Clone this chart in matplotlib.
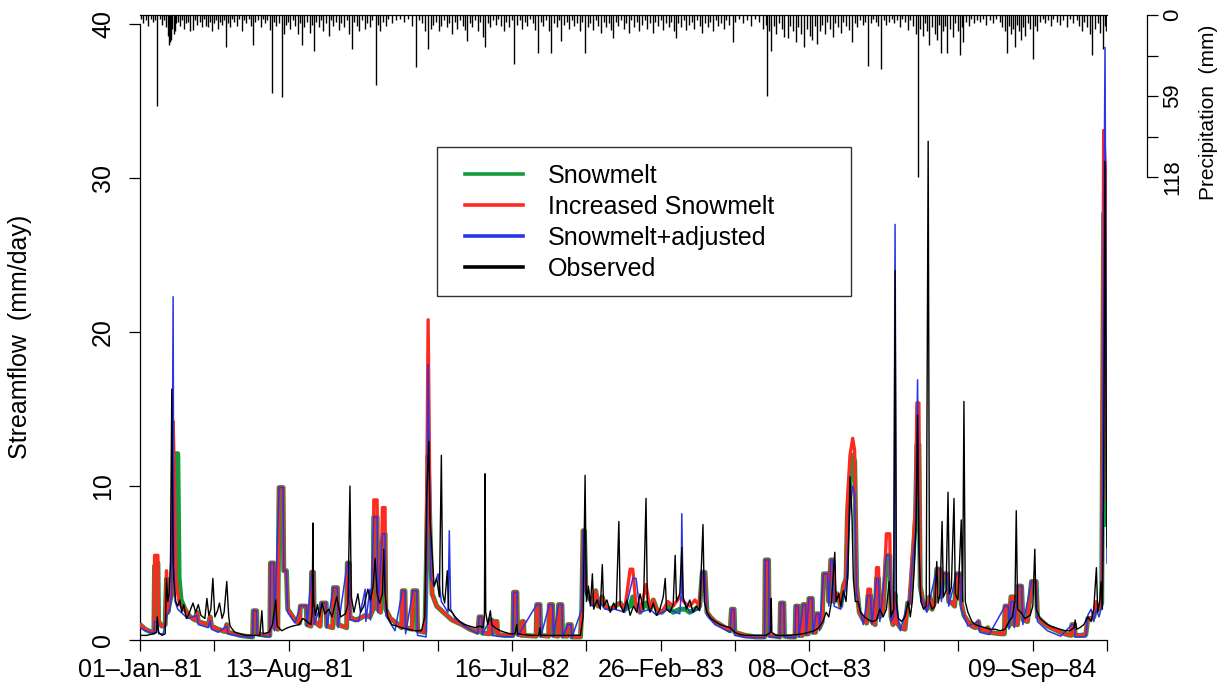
import numpy as np
import pandas as pd
import matplotlib
matplotlib.use("Agg")
import matplotlib.pyplot as plt
from matplotlib.lines import Line2D
from matplotlib.patches import Rectangle

plt.rcParams['font.family'] = ['Liberation Sans', 'DejaVu Sans']

start = pd.Timestamp('1981-01-01')
end = pd.Timestamp('1984-12-31')

# day offsets from 01-Jan-81 and streamflow (mm/day)
snow_day = [0, 8, 15, 21, 22, 27, 28, 33, 38, 40, 42, 45, 48, 50, 52, 54, 57, 59, 62, 68, 72, 76, 83, 86, 88, 95,
            103, 106, 108, 118, 128, 131, 133, 143, 151, 159, 170, 171, 176, 177, 189, 196, 197, 202, 203, 208,
            210, 216, 217, 221, 223, 234, 241, 242, 251, 252, 258, 259, 262, 263, 272, 274, 281, 282, 291, 292,
            298, 299, 312, 313, 316, 317, 325, 332, 340, 347, 352, 353, 358, 359, 363, 366, 370, 371, 378, 390,
            395, 396, 400, 401, 411, 412, 418, 419, 430, 432, 435, 438, 441, 448, 458, 471, 486, 498, 510, 512,
            516, 517, 527, 528, 531, 532, 536, 539, 540, 551, 563, 564, 569, 570, 576, 577, 579, 580, 598, 599,
            604, 605, 617, 618, 623, 624, 631, 632, 637, 638, 645, 646, 651, 652, 665, 667, 669, 671, 673, 677,
            683, 688, 692, 698, 702, 710, 717, 725, 732, 740, 744, 749, 755, 764, 770, 775, 780, 788, 797, 805,
            815, 823, 830, 838, 845, 849, 853, 856, 861, 868, 876, 883, 891, 893, 897, 898, 906, 914, 921, 929,
            936, 943, 944, 949, 950, 959, 966, 967, 972, 973, 981, 989, 990, 994, 995, 1000, 1001, 1005, 1006,
            1009, 1010, 1015, 1016, 1020, 1021, 1025, 1026, 1030, 1032, 1038, 1040, 1043, 1046, 1048, 1053, 1058,
            1062, 1066, 1068, 1072, 1076, 1079, 1082, 1086, 1092, 1097, 1099, 1103, 1105, 1110, 1112, 1115, 1117,
            1122, 1127, 1132, 1134, 1137, 1140, 1142, 1148, 1155, 1159, 1162, 1164, 1168, 1171, 1173, 1176, 1178,
            1182, 1188, 1192, 1196, 1200, 1203, 1208, 1210, 1213, 1219, 1221, 1226, 1230, 1233, 1238, 1240, 1244,
            1250, 1256, 1261, 1266, 1268, 1276, 1280, 1282, 1291, 1299, 1305, 1306, 1311, 1312, 1315, 1319, 1320,
            1325, 1326, 1331, 1333, 1340, 1346, 1353, 1355, 1362, 1370, 1380, 1390, 1400, 1406, 1407, 1411, 1412,
            1420, 1428, 1431, 1436, 1440, 1444, 1448, 1452, 1455, 1458, 1460]
snow_q = [1.0, 0.7, 0.55, 0.5, 4.8, 5.0, 1.2, 0.9, 1.0, 4.0, 1.8, 2.5, 3.0, 7.5, 4.5, 12.1, 12.1, 4.0, 2.6, 2.0, 1.7,
          1.5, 1.3, 1.8, 1.2, 1.1, 1.0, 1.5, 0.9, 0.7, 0.55, 1.0, 0.5, 0.4, 0.3, 0.25, 0.2, 1.9, 1.9, 0.4, 0.3, 0.3,
          5.0, 5.0, 0.8, 0.7, 9.9, 9.9, 4.5, 4.5, 2.0, 1.3, 1.1, 2.2, 2.2, 1.0, 0.9, 4.4, 4.4, 1.2, 0.9, 2.4, 2.4,
          0.9, 0.8, 3.4, 3.4, 1.0, 0.8, 5.0, 5.0, 1.5, 1.3, 1.4, 1.6, 1.5, 2.0, 8.0, 8.0, 2.0, 1.8, 6.5, 6.9, 2.0,
          1.4, 1.0, 0.8, 3.2, 3.2, 0.8, 0.7, 3.2, 3.2, 0.6, 0.5, 4.0, 12.0, 6.9, 3.0, 2.2, 1.8, 1.3, 1.0, 0.7, 0.5,
          1.5, 1.5, 0.45, 0.4, 1.3, 1.3, 0.4, 1.2, 1.2, 0.35, 0.3, 0.3, 3.1, 3.1, 0.4, 0.3, 1.2, 1.2, 0.3, 0.25,
          2.3, 2.3, 0.3, 0.25, 2.3, 2.3, 0.3, 0.25, 2.3, 2.3, 0.25, 0.25, 1.0, 1.0, 0.2, 0.2, 2.0, 7.1, 7.1, 3.5,
          2.8, 2.4, 3.2, 2.2, 2.8, 2.2, 2.0, 2.2, 2.4, 2.0, 2.2, 2.8, 2.2, 1.8, 2.4, 2.0, 2.6, 2.0, 1.8, 2.2, 1.8,
          2.0, 2.0, 1.8, 2.0, 2.2, 4.4, 4.4, 1.8, 1.5, 1.2, 1.0, 0.8, 0.6, 2.0, 2.0, 0.5, 0.4, 0.3, 0.25, 0.2,
          0.2, 0.2, 5.2, 5.2, 0.3, 0.25, 0.2, 2.4, 2.4, 0.25, 0.2, 0.2, 2.2, 2.2, 0.3, 0.3, 2.3, 2.3, 0.4, 0.4,
          2.7, 2.7, 0.5, 0.5, 1.7, 1.7, 0.8, 1.2, 4.3, 4.3, 2.5, 5.2, 5.2, 2.5, 3.0, 2.2, 3.5, 4.0, 8.0, 10.5,
          12.0, 11.6, 3.5, 1.8, 1.3, 1.1, 2.9, 2.9, 1.2, 1.0, 4.0, 4.0, 1.5, 2.0, 5.5, 5.5, 1.5, 1.0, 3.0, 1.2,
          0.8, 0.7, 2.4, 2.4, 3.5, 6.0, 8.0, 12.7, 12.7, 3.5, 2.5, 2.0, 2.8, 2.0, 2.5, 4.6, 4.6, 2.8, 4.3, 4.3,
          2.5, 2.4, 2.2, 4.3, 4.3, 2.4, 1.6, 1.2, 0.9, 0.8, 1.2, 0.7, 0.6, 0.8, 0.5, 0.45, 0.4, 0.4, 2.2, 2.2,
          0.9, 2.8, 2.8, 1.0, 1.0, 3.5, 3.5, 1.3, 1.2, 3.8, 3.8, 1.5, 1.2, 0.9, 0.7, 0.5, 0.35, 0.3, 1.0, 1.0,
          0.3, 0.3, 0.35, 1.4, 1.4, 1.5, 2.2, 2.0, 2.4, 27.7, 27.7, 7.5]

incr_day = snow_day
incr_q = [1.0, 0.7, 0.55, 0.5, 5.5, 5.5, 1.2, 0.9, 1.0, 4.5, 1.8, 2.5, 3.0, 14.2, 10.5, 4.0, 3.0, 2.5, 2.2, 2.0, 1.7,
          1.5, 1.3, 1.8, 1.2, 1.1, 1.0, 1.5, 0.9, 0.7, 0.55, 1.0, 0.5, 0.4, 0.3, 0.25, 0.2, 1.9, 1.9, 0.4, 0.3, 0.3,
          5.0, 5.0, 0.8, 0.7, 9.9, 9.9, 4.5, 4.5, 2.0, 1.3, 1.1, 2.2, 2.2, 1.0, 0.9, 4.4, 4.4, 1.2, 0.9, 2.4, 2.4,
          0.9, 0.8, 3.4, 3.4, 1.0, 0.8, 5.0, 5.0, 1.5, 1.3, 1.4, 1.6, 1.5, 2.0, 9.1, 9.1, 2.0, 1.8, 8.6, 8.6, 2.0,
          1.4, 1.0, 0.8, 3.2, 3.2, 0.8, 0.7, 3.2, 3.2, 0.6, 0.5, 4.0, 20.8, 7.5, 3.0, 2.2, 1.8, 1.3, 1.0, 0.7, 0.5,
          1.5, 1.5, 0.45, 0.4, 1.3, 1.3, 0.4, 1.2, 1.2, 0.35, 0.3, 0.3, 3.1, 3.1, 0.4, 0.3, 1.2, 1.2, 0.3, 0.25,
          2.3, 2.3, 0.3, 0.25, 2.3, 2.3, 0.3, 0.25, 2.3, 2.3, 0.25, 0.25, 1.0, 1.0, 0.2, 0.2, 2.0, 7.1, 7.1, 3.5,
          2.8, 2.4, 3.2, 2.2, 2.8, 2.2, 2.0, 2.2, 2.4, 2.0, 4.6, 4.6, 2.2, 1.8, 3.6, 2.0, 2.6, 2.0, 1.8, 2.5, 2.2,
          2.8, 2.4, 2.2, 2.6, 2.2, 4.4, 4.4, 1.8, 1.5, 1.2, 1.0, 0.8, 0.6, 2.0, 2.0, 0.5, 0.4, 0.3, 0.25, 0.2,
          0.2, 0.2, 5.2, 5.2, 0.3, 0.25, 0.2, 2.4, 2.4, 0.25, 0.2, 0.2, 2.2, 2.2, 0.3, 0.3, 2.3, 2.3, 0.4, 0.4,
          2.7, 2.7, 0.5, 0.5, 1.7, 1.7, 0.8, 1.2, 4.3, 4.3, 2.5, 5.2, 5.2, 2.5, 3.0, 2.2, 3.5, 4.0, 9.0, 12.0,
          13.1, 12.3, 3.5, 1.8, 1.3, 1.1, 3.3, 3.3, 1.2, 1.0, 4.7, 4.7, 1.5, 2.0, 6.9, 6.9, 1.5, 1.0, 3.0, 1.2,
          0.8, 0.7, 2.4, 2.4, 4.0, 6.5, 9.0, 15.4, 15.4, 3.5, 2.5, 2.0, 2.8, 2.0, 2.5, 4.6, 4.6, 2.8, 4.3, 4.3,
          2.5, 2.4, 2.2, 4.3, 4.3, 2.4, 1.6, 1.2, 0.9, 0.8, 1.2, 0.7, 0.6, 0.8, 0.5, 0.45, 0.4, 0.4, 2.2, 2.2,
          0.9, 2.8, 2.8, 1.0, 1.0, 3.5, 3.5, 1.3, 1.2, 3.8, 3.8, 1.5, 1.2, 0.9, 0.7, 0.5, 0.35, 0.3, 1.0, 1.0,
          0.3, 0.3, 0.35, 1.4, 1.4, 1.5, 2.5, 2.0, 2.6, 33.1, 30.0, 9.1]

adj_day = [0, 8, 15, 21, 22, 27, 28, 35, 40, 45, 48, 50, 51, 53, 57, 62, 72, 86, 88, 103, 106, 108, 118, 131, 133,
           150, 170, 171, 176, 177, 196, 197, 202, 203, 210, 216, 217, 221, 223, 234, 242, 251, 252, 259, 262, 263,
           274, 281, 282, 292, 298, 299, 313, 316, 317, 330, 340, 341, 347, 348, 353, 358, 359, 366, 370, 371,
           385, 396, 400, 401, 412, 418, 419, 432, 435, 437, 439, 444, 450, 455, 465, 467, 469, 476, 490, 510,
           512, 516, 517, 528, 531, 532, 540, 563, 564, 569, 570, 599, 604, 605, 618, 623, 624, 632, 637, 638,
           646, 651, 652, 667, 669, 671, 673, 683, 692, 702, 717, 732, 744, 749, 755, 770, 780, 797, 815, 817,
           818, 820, 830, 845, 849, 853, 856, 868, 891, 893, 897, 898, 914, 943, 944, 949, 950, 966, 967, 972,
           973, 989, 990, 994, 995, 1001, 1005, 1006, 1010, 1015, 1016, 1021, 1025, 1026, 1032, 1038, 1040, 1043,
           1046, 1048, 1058, 1066, 1072, 1076, 1079, 1082, 1092, 1099, 1103, 1105, 1112, 1115, 1117, 1127, 1132,
           1134, 1138, 1140, 1142, 1148, 1159, 1162, 1166, 1171, 1174, 1176, 1178, 1188, 1203, 1208, 1210, 1213,
           1219, 1221, 1233, 1238, 1240, 1250, 1266, 1268, 1282, 1306, 1311, 1312, 1315, 1319, 1320, 1326, 1331,
           1333, 1346, 1353, 1355, 1370, 1390, 1407, 1411, 1412, 1428, 1431, 1436, 1440, 1444, 1448, 1452, 1457,
           1460]
adj_q = [0.8, 0.6, 0.5, 0.45, 1.2, 1.2, 0.4, 0.4, 1.5, 2.0, 3.0, 22.3, 5.0, 2.5, 2.0, 1.8, 1.4, 1.6, 1.0, 0.8, 1.3,
         0.7, 0.5, 0.9, 0.4, 0.25, 0.15, 1.9, 1.9, 0.3, 0.2, 5.0, 5.0, 0.6, 9.9, 9.9, 4.5, 4.5, 1.8, 1.1, 2.2, 2.2,
         0.9, 4.4, 4.4, 1.0, 2.4, 2.4, 0.8, 3.4, 3.4, 0.8, 5.0, 5.0, 1.3, 1.2, 3.3, 1.2, 3.3, 1.3, 8.0, 8.0, 1.8,
         6.9, 6.9, 1.6, 0.6, 3.2, 3.2, 0.4, 3.2, 3.2, 0.3, 0.2, 17.9, 11.0, 4.0, 3.5, 4.3, 2.5, 1.8, 7.1, 2.0,
         1.4, 0.9, 0.4, 1.5, 1.5, 0.35, 1.3, 1.3, 0.3, 0.25, 0.2, 3.1, 3.1, 0.25, 2.3, 2.3, 0.2, 2.3, 2.3, 0.2,
         2.3, 2.3, 0.2, 1.0, 1.0, 0.15, 2.0, 7.1, 7.1, 3.0, 2.2, 2.6, 2.0, 2.0, 1.8, 4.0, 4.0, 1.8, 2.0, 1.6, 2.0,
         1.7, 3.0, 8.2, 2.6, 1.8, 2.0, 4.4, 4.4, 1.6, 1.0, 0.5, 2.0, 2.0, 0.3, 0.15, 0.15, 5.2, 5.2, 0.2, 0.15,
         2.4, 2.4, 0.2, 0.15, 2.2, 2.2, 0.2, 2.3, 2.3, 0.3, 2.7, 2.7, 0.4, 1.7, 1.7, 0.6, 4.3, 4.3, 2.2, 5.2,
         5.2, 2.2, 2.0, 3.5, 8.5, 10.0, 9.5, 3.0, 1.0, 2.9, 2.9, 1.0, 4.0, 4.0, 1.2, 5.5, 5.5, 1.2, 1.5, 27.0,
         2.0, 0.6, 2.4, 2.4, 5.0, 7.0, 16.9, 7.0, 3.0, 1.8, 4.6, 4.6, 2.5, 4.3, 4.3, 2.2, 4.3, 4.3, 2.0, 0.9,
         1.2, 0.5, 0.35, 2.2, 2.2, 0.7, 2.5, 2.5, 0.8, 3.5, 3.5, 1.0, 3.8, 3.8, 1.2, 0.6, 0.25, 1.0, 1.0, 0.2,
         0.2, 1.6, 2.0, 1.2, 2.0, 1.5, 2.2, 38.5, 5.0]

obs_day = [0, 10, 20, 25, 26, 28, 33, 38, 40, 42, 44, 46, 48, 50, 51, 54, 57, 60, 63, 66, 70, 73, 80, 84, 88, 92, 98,
           101, 104, 107, 110, 113, 117, 120, 124, 127, 131, 134, 136, 143, 151, 160, 170, 181, 184, 186, 194, 196,
           200, 205, 207, 214, 223, 230, 240, 246, 252, 258, 260, 261, 262, 265, 268, 271, 275, 279, 285, 290,
           297, 303, 310, 314, 317, 319, 323, 329, 333, 338, 344, 348, 352, 355, 358, 362, 366, 368, 370, 374,
           380, 388, 395, 405, 415, 425, 430, 433, 436, 438, 441, 444, 448, 452, 455, 457, 460, 464, 466, 471,
           476, 483, 490, 498, 506, 513, 518, 520, 521, 522, 525, 529, 531, 536, 544, 551, 559, 566, 569, 570,
           580, 590, 602, 604, 605, 615, 630, 645, 655, 665, 669, 672, 674, 677, 680, 683, 685, 690, 695, 698,
           700, 705, 710, 715, 719, 723, 725, 730, 735, 740, 745, 750, 755, 760, 764, 766, 770, 775, 780, 785,
           790, 793, 795, 800, 805, 808, 810, 815, 818, 820, 825, 830, 835, 840, 845, 850, 852, 856, 862, 868,
           876, 883, 891, 898, 906, 914, 925, 936, 945, 952, 953, 954, 960, 970, 980, 990, 1000, 1010, 1018,
           1025, 1031, 1036, 1040, 1044, 1049, 1051, 1055, 1058, 1062, 1066, 1069, 1072, 1075, 1077, 1080, 1084,
           1088, 1094, 1100, 1106, 1112, 1117, 1122, 1127, 1131, 1134, 1138, 1140, 1142, 1145, 1150, 1155, 1160,
           1163, 1166, 1169, 1172, 1174, 1176, 1179, 1183, 1187, 1190, 1192, 1196, 1200, 1203, 1205, 1208, 1211,
           1213, 1217, 1220, 1222, 1225, 1229, 1231, 1235, 1240, 1242, 1244, 1246, 1250, 1256, 1261, 1268, 1276,
           1284, 1291, 1299, 1306, 1312, 1317, 1321, 1323, 1325, 1330, 1336, 1344, 1348, 1351, 1353, 1359, 1367,
           1374, 1382, 1389, 1397, 1404, 1410, 1412, 1414, 1419, 1425, 1431, 1436, 1440, 1444, 1446, 1449, 1451,
           1453, 1455, 1457, 1459, 1460]
obs_q = [0.3, 0.3, 0.4, 0.5, 1.5, 0.5, 0.3, 0.4, 4.0, 2.5, 3.0, 5.0, 16.3, 5.0, 4.0, 2.5, 2.2, 2.6, 1.8, 2.3, 1.4,
         1.6, 2.4, 1.8, 2.3, 1.6, 1.4, 2.7, 1.6, 2.0, 4.0, 1.5, 1.9, 2.4, 1.4, 1.8, 3.8, 1.5, 0.9, 0.5, 0.4, 0.3,
         0.3, 0.3, 1.9, 0.4, 0.5, 0.6, 1.0, 2.6, 0.9, 0.6, 0.8, 0.9, 1.0, 1.4, 1.2, 1.0, 1.8, 7.6, 2.5, 1.6, 2.3,
         1.5, 2.4, 1.7, 2.0, 1.5, 2.8, 1.5, 1.7, 2.3, 10.0, 2.8, 1.8, 3.0, 1.8, 2.2, 3.3, 2.6, 3.5, 5.3, 3.0, 2.4,
         3.0, 5.9, 3.0, 1.5, 1.0, 0.9, 0.8, 0.7, 0.6, 0.6, 1.5, 9.6, 12.9, 7.8, 5.6, 3.5, 4.0, 2.8, 12.0, 3.0,
         2.4, 4.5, 2.0, 1.8, 1.5, 1.2, 1.0, 0.9, 0.8, 0.9, 0.8, 1.5, 10.8, 1.8, 1.0, 1.9, 1.0, 0.8, 0.6, 0.5,
         0.4, 0.4, 1.0, 0.4, 0.35, 0.3, 0.3, 0.8, 0.3, 0.3, 0.3, 0.3, 0.3, 0.3, 1.5, 10.7, 2.5, 3.5, 2.2, 4.3,
         2.0, 2.6, 2.0, 4.9, 2.2, 2.6, 1.8, 2.4, 2.0, 7.7, 2.3, 1.8, 2.6, 1.6, 2.2, 1.8, 3.0, 2.0, 9.2, 2.5, 1.8,
         2.4, 1.6, 2.0, 2.8, 4.0, 2.0, 1.8, 2.3, 5.5, 2.5, 3.0, 6.0, 2.8, 2.0, 2.6, 1.8, 2.2, 1.9, 7.5, 2.5, 1.8,
         1.4, 1.2, 1.0, 0.9, 0.8, 0.5, 0.35, 0.3, 0.3, 0.3, 0.3, 0.5, 2.7, 0.5, 0.3, 0.3, 0.3, 0.35, 0.4, 0.5,
         0.6, 0.8, 1.2, 1.8, 1.5, 2.5, 5.7, 2.5, 3.0, 2.2, 3.2, 2.5, 4.5, 10.6, 8.0, 4.0, 2.5, 2.5, 1.8, 1.5, 1.3,
         1.2, 1.3, 2.0, 1.5, 2.0, 3.8, 1.5, 2.0, 24.0, 2.5, 1.4, 1.2, 1.5, 2.5, 1.5, 2.5, 4.6, 8.0, 14.6, 6.0,
         2.5, 2.0, 2.2, 32.4, 2.5, 2.0, 2.2, 5.1, 2.4, 3.0, 7.7, 2.8, 3.2, 9.6, 3.0, 3.4, 9.2, 3.0, 2.6, 7.8,
         2.5, 15.5, 2.5, 1.8, 1.2, 1.0, 0.9, 0.8, 0.7, 0.7, 0.6, 0.7, 1.2, 1.5, 2.5, 8.4, 2.0, 1.8, 1.4, 1.6,
         2.2, 5.9, 2.0, 1.4, 1.1, 0.9, 0.8, 0.7, 0.6, 0.6, 0.8, 1.3, 0.7, 0.8, 1.0, 1.5, 1.2, 2.0, 4.7, 1.8,
         2.5, 3.8, 2.0, 10.0, 31.1, 12.0, 6.0]

# daily precipitation (mm), hanging from the top
rain_day = [2, 5, 9, 12, 16, 19, 23, 26, 30, 33, 36, 39, 42, 44, 45, 47, 49, 51, 53, 55, 58, 61, 64, 67, 70, 73, 76,
            80, 83, 86, 90, 93, 96, 100, 103, 106, 109, 112, 115, 118, 121, 124, 127, 130, 133, 136, 139, 142, 146,
            150, 154, 157, 160, 164, 168, 171, 174, 178, 182, 185, 188, 192, 196, 199, 202, 206, 210, 214, 217,
            220, 224, 227, 231, 234, 238, 242, 245, 248, 252, 256, 259, 263, 266, 270, 273, 277, 281, 285, 288,
            292, 296, 300, 304, 308, 312, 316, 320, 323, 327, 331, 335, 339, 343, 347, 351, 356, 359, 363, 367,
            371, 375, 380, 386, 392, 398, 405, 410, 417, 421, 426, 431, 435, 439, 443, 447, 451, 455, 459, 463,
            467, 471, 475, 479, 483, 487, 491, 494, 498, 502, 506, 510, 514, 518, 521, 525, 529, 533, 537, 541,
            545, 549, 553, 557, 561, 565, 569, 573, 577, 581, 585, 589, 593, 597, 601, 605, 609, 613, 617, 621,
            625, 629, 633, 636, 640, 644, 648, 652, 656, 660, 664, 668, 672, 676, 680, 684, 688, 692, 696, 700,
            704, 708, 711, 714, 718, 722, 726, 730, 734, 738, 742, 746, 750, 754, 758, 762, 766, 770, 774, 778,
            782, 786, 790, 794, 798, 802, 806, 809, 813, 817, 821, 825, 829, 833, 837, 841, 845, 849, 853, 857,
            861, 865, 869, 873, 877, 881, 885, 889, 895, 899, 904, 910, 916, 922, 928, 934, 940, 945, 947, 950,
            953, 957, 961, 965, 969, 973, 978, 982, 986, 990, 994, 998, 1003, 1007, 1011, 1015, 1019, 1022, 1026,
            1030, 1034, 1038, 1042, 1046, 1050, 1054, 1058, 1062, 1066, 1070, 1075, 1079, 1083, 1087, 1091, 1095,
            1099, 1103, 1107, 1111, 1115, 1119, 1123, 1127, 1131, 1135, 1139, 1143, 1147, 1151, 1155, 1159, 1163,
            1167, 1171, 1175, 1178, 1182, 1185, 1188, 1192, 1196, 1200, 1204, 1207, 1210, 1213, 1216, 1219, 1223,
            1227, 1231, 1235, 1238, 1241, 1243, 1247, 1251, 1255, 1259, 1263, 1268, 1273, 1278, 1283, 1288, 1293,
            1298, 1302, 1306, 1309, 1312, 1315, 1318, 1321, 1324, 1327, 1330, 1333, 1336, 1340, 1344, 1348, 1351,
            1355, 1359, 1363, 1367, 1371, 1375, 1379, 1384, 1389, 1394, 1399, 1404, 1409, 1414, 1418, 1422, 1426,
            1430, 1434, 1438, 1442, 1446, 1450, 1454, 1457, 1459]
rain_mm = [3, 6, 4, 8, 3, 5, 4, 66, 3, 7, 4, 9, 15, 22, 20, 18, 10, 14, 12, 6, 5, 8, 4, 10, 6, 5, 12, 11, 4, 7, 5, 9,
           3, 8, 9, 5, 12, 6, 4, 10, 5, 7, 4, 23, 6, 9, 3, 5, 8, 3, 12, 4, 6, 3, 8, 22, 5, 4, 9, 3, 6, 4, 11, 57, 5,
           8, 6, 60, 14, 7, 5, 10, 4, 8, 14, 6, 22, 9, 5, 13, 7, 26, 5, 9, 4, 12, 6, 15, 4, 8, 5, 11, 6, 9, 4, 14,
           25, 5, 8, 12, 4, 10, 6, 9, 4, 51, 7, 12, 5, 8, 3, 6, 4, 3, 5, 3, 8, 38, 4, 6, 12, 25, 10, 7, 5, 12, 8, 4,
           9, 6, 14, 5, 10, 4, 8, 11, 19, 6, 9, 4, 12, 5, 16, 23, 6, 9, 4, 7, 3, 8, 12, 5, 9, 4, 36, 7, 4, 10, 5, 8,
           3, 6, 11, 28, 5, 8, 4, 12, 28, 6, 9, 4, 19, 7, 5, 10, 4, 8, 6, 12, 5, 28, 9, 6, 11, 4, 8, 13, 5, 9, 6,
           11, 17, 5, 8, 4, 10, 6, 13, 4, 9, 5, 12, 7, 4, 10, 6, 13, 5, 8, 4, 11, 6, 9, 5, 12, 17, 6, 9, 4, 11, 7,
           5, 10, 4, 8, 13, 6, 9, 5, 12, 4, 8, 6, 10, 4, 7, 20, 5, 3, 6, 4, 8, 3, 5, 10, 7, 59, 12, 26, 8, 14, 6,
           10, 16, 17, 8, 12, 20, 9, 14, 23, 10, 15, 18, 8, 21, 12, 7, 14, 5, 10, 16, 6, 9, 13, 5, 8, 11, 20, 6, 9,
           4, 7, 5, 37, 6, 3, 5, 8, 39, 4, 7, 5, 3, 6, 4, 9, 3, 5, 11, 4, 8, 14, 118, 10, 15, 6, 12, 22, 9, 14, 18,
           7, 28, 12, 8, 28, 10, 16, 6, 12, 29, 9, 20, 5, 8, 3, 6, 4, 5, 3, 7, 4, 6, 3, 5, 9, 12, 28, 8, 14, 10, 23,
           7, 12, 18, 9, 15, 6, 10, 32, 8, 12, 5, 3, 6, 4, 8, 3, 5, 7, 4, 9, 3, 6, 4, 8, 12, 5, 9, 14, 29, 10, 6,
           13, 25, 8, 12]

legend_labels = ['Snowmelt', 'Increased Snowmelt', 'Snowmelt+adjusted', 'Observed']
colors = ['#129a3c', '#ff2a1f', '#2a35e6', 'black']


def to_dates(days):
    return start + pd.to_timedelta(np.array(days), unit='D')


W, H = 1225, 689
fig = plt.figure(figsize=(W / 100, H / 100), dpi=100)
ax = fig.add_axes([140 / W, 1 - 640 / H, (1107 - 140) / W, (640 - 15) / H])

ax.plot(to_dates(snow_day), snow_q, color=colors[0], lw=3.6, solid_joinstyle='round', zorder=2)
ax.plot(to_dates(incr_day), incr_q, color=colors[1], lw=2.4, solid_joinstyle='round', zorder=3)
ax.plot(to_dates(adj_day), adj_q, color=colors[2], lw=1.1, zorder=4)
ax.plot(to_dates(obs_day), obs_q, color=colors[3], lw=1.0, zorder=5)

ax.set_xlim(start, end)
ax.set_ylim(0, 40.6)

fs = 18
ax.set_yticks([0, 10, 20, 30, 40])
ax.tick_params(axis='y', labelrotation=90, labelsize=fs, length=8, width=0.9, pad=10)
for t in ax.get_yticklabels():
    t.set_va('center')

ticks = pd.date_range(start, end, periods=14)
show = [0, 2, 5, 7, 9, 12]
ax.set_xticks(ticks)
ax.set_xticklabels([t.strftime('%d\u2013%b\u2013%y') if i in show else '' for i, t in enumerate(ticks)])
ax.tick_params(axis='x', labelsize=fs, length=8, width=0.9, pad=5)

ax.spines['right'].set_visible(False)
ax.spines['left'].set_bounds(0, 40)
for s in ['left', 'bottom', 'top']:
    ax.spines[s].set_linewidth(0.9)

# precipitation on an inverted twin axis
ax2 = ax.twinx()
ax2.vlines(to_dates(rain_day), 0, rain_mm, color='black', lw=1.0)
ax2.set_ylim(455, 0)
ax2.set_xlim(start, end)
ax2.spines['right'].set_position(('outward', 29))
ax2.spines['right'].set_bounds(0, 118)
ax2.spines['right'].set_linewidth(0.9)
for s in ['left', 'top', 'bottom']:
    ax2.spines[s].set_visible(False)
ax2.set_yticks([0, 29.5, 59, 88.5, 118])
ax2.set_yticklabels(['0', '', '59', '', '118'])
ax2.tick_params(axis='y', labelrotation=90, labelsize=16, length=8, width=0.9, pad=3)
for t in ax2.get_yticklabels():
    t.set_va('center')

fig.text(20 / W, 1 - 337 / H, 'Streamflow  (mm/day)', rotation=90, ha='center', va='center', fontsize=fs)
fig.text(1208 / W, 1 - 112 / H, 'Precipitation  (mm)', rotation=90, ha='center', va='center', fontsize=15)

# legend box
fig.add_artist(Rectangle((437 / W, 1 - 296 / H), (851 - 437) / W, (296 - 147) / H, transform=fig.transFigure,
                         fill=False, edgecolor='#333333', lw=1.0, zorder=10))
handles = [Line2D([], [], color=c, lw=2.6) for c in colors]
fig.legend(handles, legend_labels, loc='upper left', bbox_to_anchor=(465 / W, 1 - 164 / H),
           frameon=False, fontsize=fs, borderpad=0, borderaxespad=0, handlelength=2.3,
           handletextpad=1.0, labelspacing=0.28)

fig.savefig('out.png', dpi=100)
